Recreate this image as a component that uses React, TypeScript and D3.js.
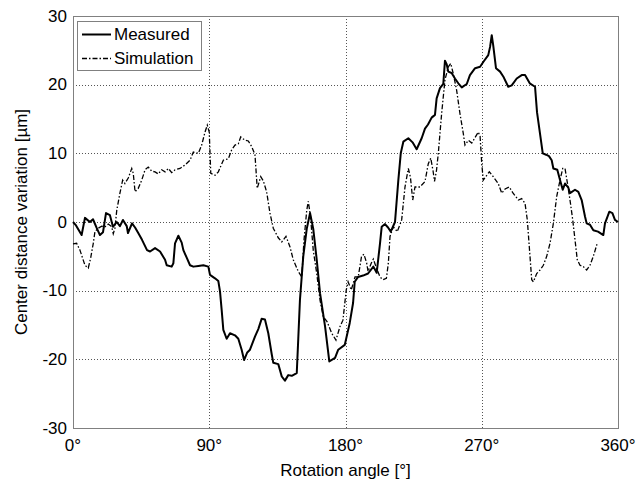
import React, { useEffect, useRef } from 'react';
import * as d3 from 'd3';

// Measured curve: [rotation angle (deg), center distance variation (um)]
const measured: [number, number][] = [
  [0, 0], [2.0, -0.5], [5.7, -1.9], [7.9, 0.6], [11.2, 0], [13.2, 0.4], [15.7, -0.9],
  [17.8, -1.9], [19.8, -1.5], [21.8, 1.3], [24.4, 1.0], [26.4, -0.7], [28.9, 0],
  [31.0, -0.6], [33.0, 0.3], [35.5, -0.6], [36.3, -1.6], [39.0, -0.2], [41.0, -0.8],
  [43.1, -1.6], [45.6, -2.6], [48.9, -4.1], [50.9, -4.3], [54.2, -3.8], [57.5, -4.3],
  [60.8, -5.5], [61.9, -6.3], [65.2, -6.5], [66.3, -6.0], [67.4, -3.1], [69.6, -2.0],
  [71.8, -3.0], [72.9, -4.1], [75.1, -5.2], [77.3, -6.3], [79.5, -6.5], [82.8, -6.4],
  [86.1, -6.3], [89.4, -6.5], [90.5, -7.7], [93.8, -8.2], [96.0, -8.6], [97.1, -10.1],
  [98.2, -12.8], [99.3, -15.7], [101.5, -17.0], [103.7, -16.2], [107.0, -16.5],
  [109.2, -17.0], [111.4, -18.6], [113.0, -20.1], [115.1, -19.0], [116.9, -18.6],
  [120.2, -16.7], [122.4, -15.6], [124.6, -14.1], [126.8, -14.2], [129.0, -16.2],
  [131.3, -19.3], [132.3, -20.5], [135.6, -20.7], [137.9, -22.5], [140.0, -23.1],
  [142.2, -22.3], [144.5, -22.4], [147.8, -22.0], [148.8, -17.0], [149.9, -11.4],
  [152.1, -5.0], [154.4, -1.0], [156.6, 1.3], [158.7, -1.0], [161.0, -5.5], [163.2, -10.4],
  [166.5, -15.2], [169.3, -20.3], [173.1, -19.8], [175.2, -18.6], [179.5, -17.9],
  [182.8, -14.7], [185.0, -11.8], [186.1, -8.7], [188.3, -8.0], [191.6, -7.8],
  [194.9, -7.5], [198.4, -6.5], [200.6, -7.4], [202.8, -3.1], [203.9, -0.7], [206.1, -0.3],
  [208.1, -0.8], [209.9, -1.4], [212.7, 0], [214.9, 6.1], [216.5, 10.0], [218.2, 11.7],
  [221.5, 12.2], [224.3, 11.6], [227.0, 10.6], [230.3, 12.2], [232.5, 13.6], [234.5, 14.2],
  [236.9, 15.2], [239.1, 15.6], [240.2, 18.0], [242.4, 19.5], [244.6, 20.1], [245.7, 23.5],
  [246.8, 23.0], [247.9, 21.9], [250.1, 21.7], [252.3, 20.9], [254.5, 20.2], [256.8, 19.6],
  [260.1, 20.1], [262.2, 21.4], [265.6, 22.4], [268.9, 22.6], [271.0, 23.3], [274.3, 24.3],
  [275.5, 25.5], [276.6, 27.2], [277.6, 25.7], [279.4, 22.4], [282.1, 21.9], [284.2, 21.2],
  [287.5, 19.7], [289.8, 19.9], [293.1, 20.9], [296.4, 21.4], [298.6, 21.4], [301.7, 20.2],
  [305.2, 19.7], [306.5, 16.0], [310.3, 10.0], [312.5, 9.8], [314.4, 9.6], [316.2, 9.0],
  [317.3, 7.8], [319.9, 7.6], [321.7, 6.1], [323.5, 4.7], [325.0, 5.6], [327.2, 5.0],
  [328.3, 4.2], [331.6, 4.7], [333.8, 4.4], [336.0, 3.2], [338.2, 0.8], [339.3, -0.2],
  [341.5, -0.4], [343.7, -1.2], [346.8, -1.4], [350.3, -1.9], [351.4, -0.2], [354.3, 1.5],
  [356.3, 1.3], [358.0, 0.3], [360, 0],
];

// Simulation curve: [rotation angle (deg), center distance variation (um)]
const simulation: [number, number][] = [
  [0, -3.2], [2.4, -3.1], [4.6, -4.1], [7.9, -6.3], [10.1, -6.7], [11.7, -5.2], [13.4, -3.1],
  [14.5, -1.4], [16.7, -0.9], [19.0, -0.6], [21.1, -0.7], [23.3, -0.3], [25.6, -0.7],
  [26.6, -1.7], [27.7, -0.9], [28.9, 1.7], [31.0, 4.2], [32.8, 6.1], [34.3, 5.6], [36.5, 6.4],
  [38.8, 7.8], [39.8, 7.1], [41.0, 4.4], [43.1, 4.9], [45.4, 6.1], [47.6, 7.6], [49.7, 8.0],
  [52.0, 7.4], [54.2, 7.3], [56.3, 7.0], [58.6, 7.6], [60.8, 7.3], [63.0, 7.8], [65.2, 7.2],
  [67.4, 7.6], [70.7, 7.8], [74.0, 8.3], [77.3, 9.0], [79.5, 10.2], [82.8, 10.0], [85.0, 11.2],
  [87.2, 13.1], [88.7, 14.1], [90.0, 13.1], [91.0, 7.1], [93.8, 6.8], [96.0, 7.3], [99.3, 9.0],
  [102.6, 9.2], [104.8, 10.5], [107.0, 11.2], [109.2, 11.4], [110.8, 12.4], [113.6, 11.9],
  [115.8, 11.8], [118.0, 11.0], [120.2, 9.8], [121.7, 4.9], [124.0, 6.6], [125.7, 6.0],
  [127.9, 4.4], [130.1, 1.3], [132.3, -0.9], [135.6, -2.3], [137.9, -2.9], [140.7, -2.1],
  [143.3, -3.6], [145.5, -5.5], [148.8, -7.2], [151.1, -8.0], [152.6, -2.6], [154.4, 1.7],
  [155.4, 3.0], [156.8, 1.0], [158.7, -4.1], [161.0, -7.5], [163.2, -11.4], [165.3, -13.8],
  [167.8, -14.5], [170.9, -16.2], [173.7, -17.2], [176.4, -15.2], [178.3, -14.3],
  [180.5, -9.9], [181.7, -8.7], [183.8, -9.9], [186.3, -8.0], [188.4, -8.0], [190.6, -5.0],
  [192.2, -4.7], [194.0, -6.0], [194.9, -7.2], [197.0, -6.0], [198.4, -5.4], [200.6, -6.8],
  [202.8, -8.0], [204.8, -8.4], [207.0, -8.2], [208.3, -6.0], [209.4, -2.1], [211.6, -0.7],
  [214.2, -1.4], [217.1, 0.3], [219.3, 5.1], [221.5, 7.8], [222.9, 6.5], [224.4, 3.2],
  [225.9, 5.1], [229.2, 5.1], [232.5, 5.9], [234.7, 8.5], [236.3, 9.3], [237.8, 7.5],
  [238.8, 5.9], [240.1, 7.5], [241.3, 10.0], [243.5, 15.8], [245.7, 20.7], [247.9, 22.6],
  [249.5, 23.1], [251.2, 21.6], [253.4, 19.2], [255.6, 15.8], [257.8, 12.9], [258.9, 11.2],
  [261.1, 11.9], [263.4, 11.5], [265.6, 12.3], [267.7, 13.1], [268.9, 12.5], [270.0, 8.5],
  [271.0, 6.1], [273.3, 6.8], [275.0, 7.3], [277.6, 6.6], [280.9, 5.6], [283.2, 4.2],
  [285.4, 4.8], [288.2, 5.1], [290.7, 4.2], [294.2, 3.2], [296.4, 3.4], [298.6, 2.7],
  [300.1, 0.3], [301.4, -3.6], [303.0, -8.4], [304.1, -8.7], [306.3, -7.5], [308.5, -7.0],
  [310.7, -6.3], [312.9, -5.0], [315.1, -3.1], [317.3, -0.2], [319.5, 3.7], [321.7, 6.1],
  [323.5, 7.8], [325.0, 7.8], [326.7, 5.5], [328.3, 3.2], [330.1, 0.3], [331.6, -2.6],
  [333.1, -5.5], [334.9, -6.3], [337.1, -6.5], [339.3, -7.0], [341.5, -6.3], [343.7, -5.0],
  [346.3, -3.1],
];

const xTicks = [0, 90, 180, 270, 360];
const yTicks = [-30, -20, -10, 0, 10, 20, 30];
const legendLabels = ['Measured', 'Simulation'];

const W = 638;
const H = 484;
const FONT = 'Arial, "Liberation Sans", Helvetica, sans-serif';

const App = () => {
  const svgRef = useRef<SVGSVGElement>(null);

  useEffect(() => {
    const svg = d3.select(svgRef.current);
    svg.selectAll('*').remove();

    const left = 73, right = 618, top = 16, bottom = 428;
    const x = d3.scaleLinear().domain([0, 360]).range([left, right]);
    const y = d3.scaleLinear().domain([-30, 30]).range([bottom, top]);

    svg.append('rect').attr('width', W).attr('height', H).attr('fill', '#fff');

    // dotted grid
    const grid = svg.append('g');
    xTicks.slice(1, -1).forEach(t => {
      grid.append('line')
        .attr('x1', Math.round(x(t)) + 0.5).attr('x2', Math.round(x(t)) + 0.5)
        .attr('y1', top).attr('y2', bottom)
        .attr('stroke', '#555').attr('stroke-width', 1)
        .attr('stroke-dasharray', '1,2');
    });
    yTicks.slice(1, -1).forEach(t => {
      grid.append('line')
        .attr('x1', left).attr('x2', right)
        .attr('y1', Math.round(y(t)) + 0.5).attr('y2', Math.round(y(t)) + 0.5)
        .attr('stroke', '#555').attr('stroke-width', 1)
        .attr('stroke-dasharray', '1,2');
    });

    // axes box
    svg.append('rect')
      .attr('x', left + 0.5).attr('y', top + 0.5)
      .attr('width', right - left).attr('height', bottom - top)
      .attr('fill', 'none').attr('stroke', '#808080').attr('stroke-width', 1);

    // tick labels
    svg.append('g').selectAll('text').data(yTicks).enter().append('text')
      .attr('x', left - 6).attr('y', d => y(d))
      .attr('text-anchor', 'end').attr('dominant-baseline', 'central')
      .attr('font-family', FONT).attr('font-size', 17).attr('fill', '#000')
      .text(d => `${d}`);

    svg.append('g').selectAll('text').data(xTicks).enter().append('text')
      .attr('x', d => x(d)).attr('y', bottom + 23)
      .attr('text-anchor', 'middle')
      .attr('font-family', FONT).attr('font-size', 17).attr('fill', '#000')
      .text(d => `${d}°`);

    // axis titles
    svg.append('text')
      .attr('x', (left + right) / 2).attr('y', 476)
      .attr('text-anchor', 'middle')
      .attr('font-family', FONT).attr('font-size', 17).attr('fill', '#000')
      .text('Rotation angle [°]');

    svg.append('text')
      .attr('transform', `translate(27, ${(top + bottom) / 2}) rotate(-90)`)
      .attr('text-anchor', 'middle')
      .attr('font-family', FONT).attr('font-size', 17).attr('fill', '#000')
      .text('Center distance variation [µm]');

    const line = d3.line<[number, number]>()
      .x(d => x(d[0]))
      .y(d => y(d[1]))
      .curve(d3.curveLinear);

    svg.append('path')
      .datum(simulation)
      .attr('d', line)
      .attr('fill', 'none')
      .attr('stroke', '#000')
      .attr('stroke-width', 1.3)
      .attr('stroke-dasharray', '5,2,1.5,2');

    svg.append('path')
      .datum(measured)
      .attr('d', line)
      .attr('fill', 'none')
      .attr('stroke', '#000')
      .attr('stroke-width', 2)
      .attr('stroke-linejoin', 'round');

    // legend
    const lg = svg.append('g');
    lg.append('rect')
      .attr('x', 77.5).attr('y', 21.5).attr('width', 124).attr('height', 49)
      .attr('fill', '#fff').attr('stroke', '#808080').attr('stroke-width', 1);
    legendLabels.forEach((label, i) => {
      const cy = 34.5 + i * 24;
      lg.append('line')
        .attr('x1', 82).attr('x2', 111).attr('y1', cy).attr('y2', cy)
        .attr('stroke', '#000')
        .attr('stroke-width', i === 0 ? 2 : 1.3)
        .attr('stroke-dasharray', i === 0 ? null : '5,2,1.5,2');
      lg.append('text')
        .attr('x', 114).attr('y', cy)
        .attr('dominant-baseline', 'central')
        .attr('font-family', FONT).attr('font-size', 17).attr('fill', '#000')
        .text(label);
    });
  }, []);

  return (
    <div style={{ position: 'absolute', left: 0, top: 0 }}>
      <svg ref={svgRef} width={W} height={H} style={{ display: 'block' }} />
    </div>
  );
};

export default App;
